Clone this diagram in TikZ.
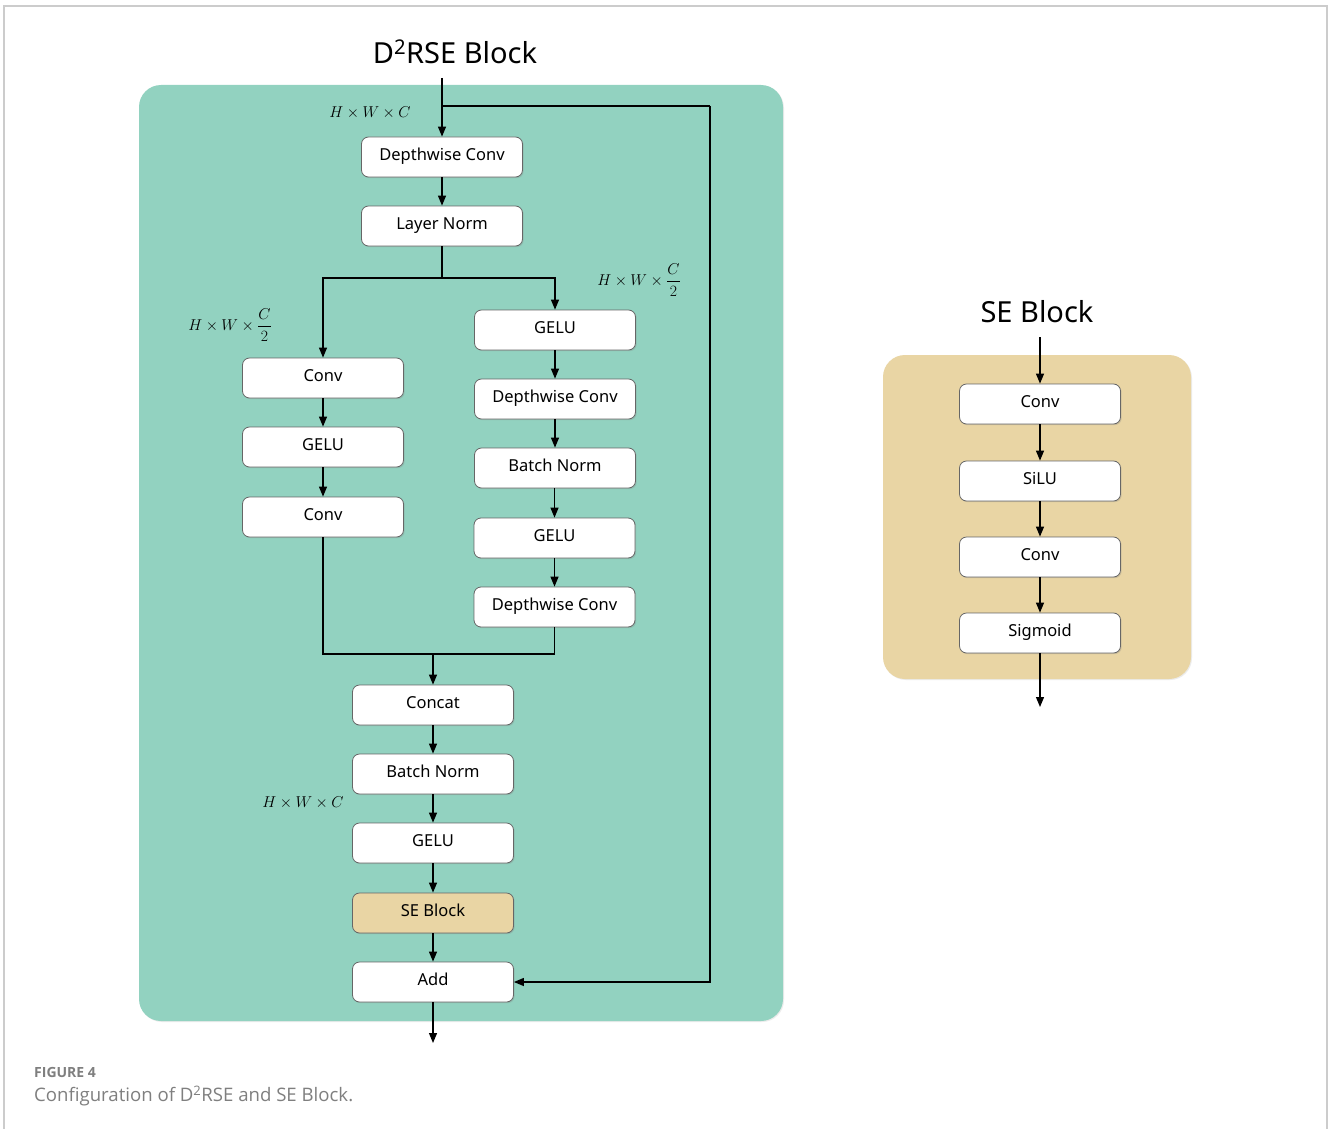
\documentclass[tikz,border=0pt]{standalone}
\usepackage{fontspec}
\setmainfont{Noto Sans}
\newfontfamily\titlefont{Noto Sans}
\newfontfamily\capfont{Open Sans}
\usetikzlibrary{arrows.meta,shadows}
\definecolor{panelteal}{HTML}{92D2C0}
\definecolor{paneltan}{HTML}{E9D5A4}
\definecolor{captiongray}{HTML}{7F7F7F}
\definecolor{framegray}{HTML}{CCCCCC}
\tikzset{
  blk/.style={draw=black!60, fill=white, rounded corners=7pt, minimum width=161pt,
    minimum height=40pt, line width=0.8pt, inner sep=0pt,
    font=\fontsize{16.5}{19}\selectfont, text depth=0pt, text height=0.72em,
    drop shadow={shadow xshift=1.2pt, shadow yshift=-1.2pt, opacity=0.25}},
  tanblk/.style={blk, fill=paneltan},
  arr/.style={-{Triangle[length=10pt,width=8pt]}, line width=1.2pt},
  ln/.style={line width=1.2pt},
  dimlab/.style={font=\fontsize{17.28}{19}\selectfont, inner sep=0pt, scale=0.91, transform shape},
  titlelab/.style={font=\titlefont\fontsize{29}{32}\selectfont, inner sep=0pt},
  panel/.style={rounded corners=22pt, drop shadow={shadow xshift=1pt, shadow yshift=-1pt, opacity=0.15}}
}
\begin{document}
\begin{tikzpicture}[x=1pt,y=-1pt]
\useasboundingbox (0,0) rectangle (1328,1129);
\fill[white] (0,0) rectangle (1328,1129);
\draw[framegray, line width=1.2pt] (4,1129) -- (4,6) -- (1327,6) -- (1327,1129);

% main panel
\fill[panelteal, panel] (139,85) rectangle (783,1021);
\node[titlelab] (t1) at (455,52) {D\textsuperscript{2}RSE Block};

\node[blk] (dw1) at (442,157) {Depthwise Conv};
\node[blk] (ln1) at (442,226) {Layer Norm};
\node[blk] (lc1) at (323,378) {Conv};
\node[blk] (lg1) at (323,447) {GELU};
\node[blk] (lc2) at (323,517) {Conv};
\node[blk] (rg1) at (555,330) {GELU};
\node[blk] (rd1) at (555,399) {Depthwise Conv};
\node[blk] (rb1) at (555,468) {Batch Norm};
\node[blk] (rg2) at (554.5,538) {GELU};
\node[blk] (rd2) at (554.5,607) {Depthwise Conv};
\node[blk] (cat) at (433,705) {Concat};
\node[blk] (bn2) at (433,774) {Batch Norm};
\node[blk] (g3) at (433,843) {GELU};
\node[tanblk] (se) at (433,913) {SE Block};
\node[blk] (add) at (433,982) {Add};

\node[dimlab] (d1) at (370,113) {$H\times W\times C$};
\node[dimlab] (d2) at (230,325) {$H\times W\times {\displaystyle\frac{C}{2}}$};
\node[dimlab] (d3) at (639,280) {$H\times W\times {\displaystyle\frac{C}{2}}$};
\node[dimlab] (d4) at (303,803) {$H\times W\times C$};

\coordinate (in1) at (442,78);
\coordinate (sk) at (442,106);
\coordinate (skr) at (710,106);
\coordinate (sp) at (442,278);
\coordinate (mg) at (433,654);
\coordinate (out1) at (433,1043);

\draw[arr] (in1) -- (dw1);
\draw[arr] (dw1) -- (ln1);
\draw[ln] (ln1) -- (sp);
\draw[arr] (sp) -| (lc1.north);
\draw[arr] (sp) -| (rg1.north);
\draw[arr] (lc1) -- (lg1);
\draw[arr] (lg1) -- (lc2);
\draw[arr] (rg1) -- (rd1);
\draw[arr] (rd1) -- (rb1);
\draw[arr] (rb1.south -| rg2.north) -- (rg2.north);
\draw[arr] (rg2) -- (rd2);
\draw[ln] (lc2.south) |- (mg);
\draw[ln] (rd2.south) |- (mg);
\draw[arr] (mg) -- (cat);
\draw[arr] (cat) -- (bn2);
\draw[arr] (bn2) -- (g3);
\draw[arr] (g3) -- (se);
\draw[arr] (se) -- (add);
\draw[arr] (add) -- (out1);
\draw[ln] (sk) -- (skr);
\draw[arr] (skr) |- (add.east);

% SE panel
\fill[paneltan, panel] (883,355) rectangle (1191,679);
\node[titlelab] (t2) at (1037,312) {SE Block};
\node[blk] (s1) at (1040,404) {Conv};
\node[blk] (s2) at (1040,481) {SiLU};
\node[blk] (s3) at (1040,557) {Conv};
\node[blk] (s4) at (1040,633) {Sigmoid};
\coordinate (sein) at (1040,337);
\coordinate (seout) at (1040,707);
\draw[arr] (sein) -- (s1);
\draw[arr] (s1) -- (s2);
\draw[arr] (s2) -- (s3);
\draw[arr] (s3) -- (s4);
\draw[arr] (s4) -- (seout);

% caption
\node[anchor=west, inner sep=0pt, text=captiongray, font=\capfont\bfseries\fontsize{14}{16}\selectfont] (cap1) at (34,1072) {FIGURE 4};
\node[anchor=west, inner sep=0pt, text=captiongray, font=\capfont\fontsize{18.6}{22}\selectfont] (cap2) at (34,1096) {Configuration of D\textsuperscript{2}RSE and SE Block.};
\end{tikzpicture}
\end{document}
